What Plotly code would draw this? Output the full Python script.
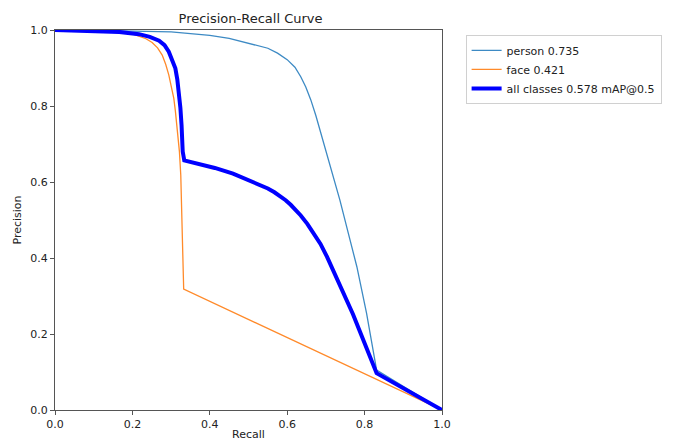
import plotly.graph_objects as go

# ---- data ----
person_recall = [0.0, 0.1, 0.2, 0.3, 0.35, 0.4, 0.45, 0.5, 0.525, 0.55, 0.575, 0.6, 0.62, 0.635, 0.648, 0.661,
                 0.674, 0.686, 0.699, 0.712, 0.724, 0.736, 0.758, 0.78, 0.805, 0.827, 0.831, 1.0]
person_precision = [1.0, 0.999, 0.997, 0.995, 0.991, 0.986, 0.978, 0.966, 0.96, 0.952, 0.939, 0.922, 0.902, 0.877, 0.85, 0.816,
                    0.775, 0.732, 0.688, 0.643, 0.598, 0.553, 0.465, 0.377, 0.255, 0.132, 0.105, 0.0]

face_recall = [0.0, 0.1, 0.15, 0.2, 0.217, 0.235, 0.251, 0.265, 0.277, 0.286, 0.294, 0.301, 0.307, 0.311, 0.315,
               0.3185, 0.3215, 0.325, 0.3275, 0.33, 0.3325, 1.0]
face_precision = [1.0, 0.997, 0.994, 0.99, 0.983, 0.977, 0.967, 0.953, 0.934, 0.91, 0.882, 0.852, 0.82, 0.787, 0.75,
                  0.715, 0.68, 0.618, 0.53, 0.43, 0.318, 0.0]

all_recall = [0.0, 0.1, 0.166, 0.217, 0.245, 0.269, 0.283, 0.294, 0.303, 0.311, 0.316, 0.32, 0.324, 0.327, 0.33, 0.334,
              0.37, 0.413, 0.46, 0.506, 0.53, 0.55, 0.567, 0.582, 0.596, 0.609, 0.622, 0.635, 0.652, 0.668, 0.686,
              0.703, 0.72, 0.737, 0.754, 0.77, 0.785, 0.808, 0.831, 1.0]
all_precision = [1.0, 0.998, 0.995, 0.989, 0.982, 0.972, 0.96, 0.943, 0.923, 0.899, 0.87, 0.838, 0.795, 0.75, 0.68, 0.657,
                 0.648, 0.637, 0.622, 0.603, 0.593, 0.583, 0.573, 0.563, 0.552, 0.54, 0.527, 0.512, 0.49, 0.467, 0.437,
                 0.403, 0.366, 0.328, 0.29, 0.252, 0.214, 0.155, 0.097, 0.0]

labels = ["person 0.735", "face 0.421", "all classes 0.578 mAP@0.5"]
tick_vals = [0.0, 0.2, 0.4, 0.6, 0.8, 1.0]
tick_text = ["0.0", "0.2", "0.4", "0.6", "0.8", "1.0"]

fig = go.Figure()
fig.add_trace(go.Scatter(x=person_recall, y=person_precision, mode="lines",
                         line=dict(color="#3d8ac4", width=1.3), name=labels[0]))
fig.add_trace(go.Scatter(x=face_recall, y=face_precision, mode="lines",
                         line=dict(color="#ff8a2a", width=1.3), name=labels[1]))
fig.add_trace(go.Scatter(x=all_recall, y=all_precision, mode="lines",
                         line=dict(color="#0000ff", width=4), name=labels[2]))

axis_common = dict(
    range=[0, 1], showgrid=False, zeroline=False,
    showline=True, linecolor="#555555", linewidth=1.2, mirror=True,
    ticks="outside", ticklen=4, tickcolor="#555555", tickwidth=1,
    tickvals=tick_vals, ticktext=tick_text,
    tickfont=dict(family="DejaVu Sans", size=11, color="#222222"),
    automargin=False,
)

# page body has an 8px margin, so the figure is 8px smaller than the window
W, H = 666, 433
L, R, T, B = 47, 228, 22, 31

fig.update_layout(
    width=W, height=H,
    margin=dict(l=L, r=R, t=T, b=B),
    paper_bgcolor="white", plot_bgcolor="white",
    title=dict(text="Precision-Recall Curve", x=(L + (W - R)) / 2 / W, xanchor="center",
               y=1 - 10 / H, yanchor="middle",
               font=dict(family="DejaVu Sans", size=13, color="#222222")),
    xaxis=dict(axis_common, title=dict(text="Recall", standoff=3,
                                       font=dict(family="DejaVu Sans", size=11, color="#222222"))),
    yaxis=dict(axis_common, title=dict(text="Precision", standoff=6,
                                       font=dict(family="DejaVu Sans", size=11, color="#222222"))),
    legend=dict(x=1.061, y=0.987, xanchor="left", yanchor="top",
                bgcolor="white", bordercolor="#d0d0d0", borderwidth=1,
                font=dict(family="DejaVu Sans", size=11, color="#222222"),
                tracegroupgap=0),
    showlegend=True,
)

fig.write_html("out.html")
